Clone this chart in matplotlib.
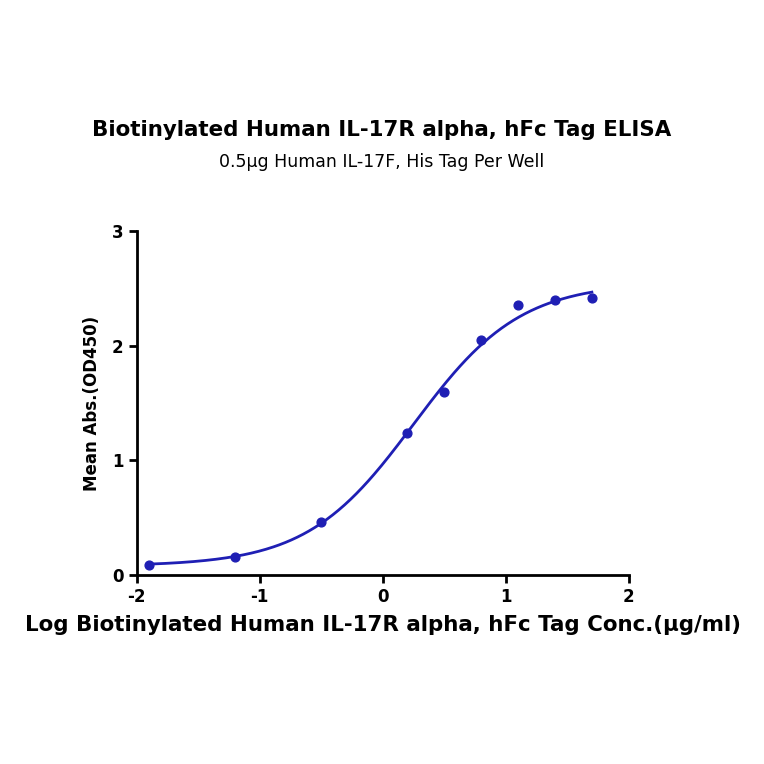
import numpy as np
import matplotlib.pyplot as plt

log_conc = [-1.9, -1.2, -0.5, 0.2, 0.5, 0.8, 1.1, 1.4, 1.7]
mean_abs = [0.09, 0.16, 0.46, 1.24, 1.60, 2.05, 2.35, 2.40, 2.41]

# 4PL fit parameters
bottom, top, log_ec50, hill = 0.08, 2.55, 0.25, 1.0

blue = '#1f1fb4'

fig = plt.figure(figsize=(7.64, 7.64), dpi=100)
ax = fig.add_axes([0.179, 0.247, 0.644, 0.451])

xs = np.linspace(-1.9, 1.7, 300)
ys = bottom + (top - bottom) / (1 + 10 ** ((log_ec50 - xs) * hill))
ax.plot(xs, ys, color=blue, lw=2)
ax.scatter(log_conc, mean_abs, color=blue, s=40, zorder=3)

ax.set_xlim(-2, 2)
ax.set_ylim(0, 3)
ticks_x = [-2, -1, 0, 1, 2]
ax.set_xticks(ticks_x, [str(t) for t in ticks_x])
ax.set_yticks([0, 1, 2, 3])
for s in ['top', 'right']:
    ax.spines[s].set_visible(False)
for s in ['left', 'bottom']:
    ax.spines[s].set_linewidth(2)
ax.tick_params(width=2, length=6, labelsize=12)
for lab in ax.get_xticklabels() + ax.get_yticklabels():
    lab.set_fontweight('bold')

ax.set_xlabel('Log Biotinylated Human IL-17R alpha, hFc Tag Conc.(μg/ml)',
              fontsize=15.4, fontweight='bold', labelpad=6)
ax.set_ylabel('Mean Abs.(OD450)', fontsize=12, fontweight='bold', labelpad=8)

fig.text(0.5, 0.822, 'Biotinylated Human IL-17R alpha, hFc Tag ELISA',
         ha='center', fontsize=15.4, fontweight='bold')
fig.text(0.5, 0.782, '0.5μg Human IL-17F, His Tag Per Well',
         ha='center', fontsize=12.5)

fig.savefig('out.png')
